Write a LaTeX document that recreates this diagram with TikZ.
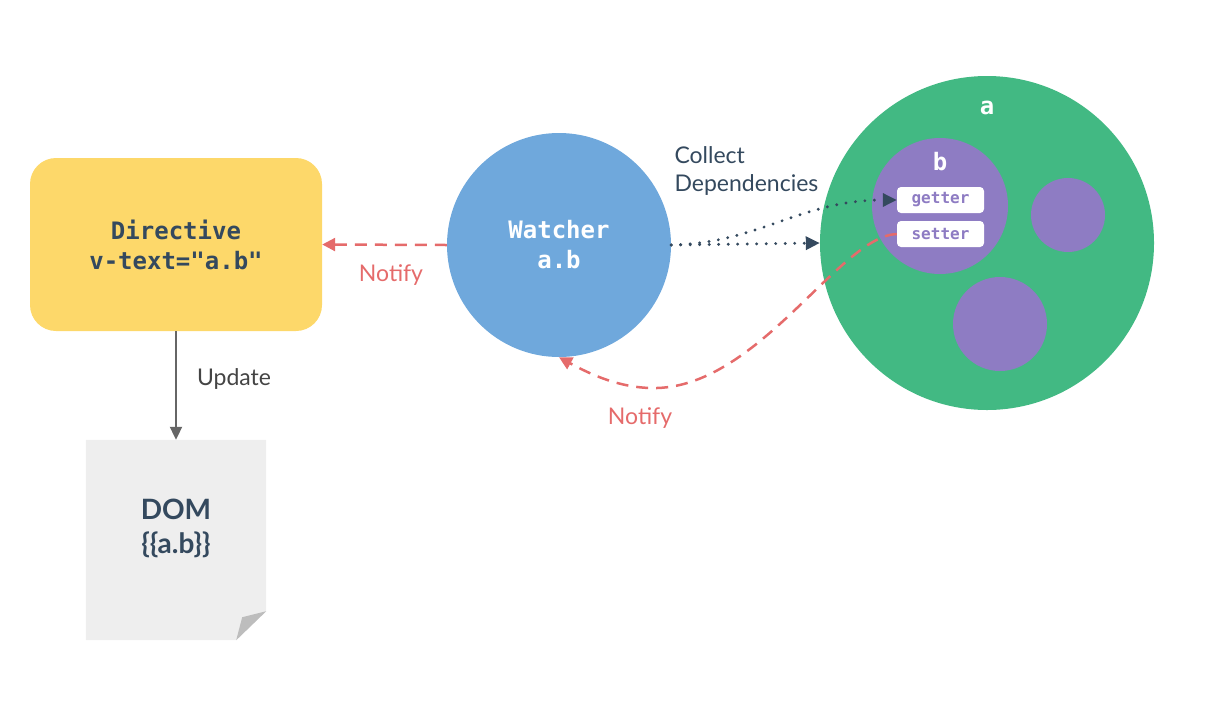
\documentclass[tikz,border=0pt]{standalone}
\usepackage{fontspec}
\setmainfont{Lato}
\newfontfamily\monof{DejaVu Sans Mono}
\usetikzlibrary{arrows.meta}
\definecolor{cyel}{HTML}{FDD86A}
\definecolor{cgreen}{HTML}{42B983}
\definecolor{cblue}{HTML}{6FA8DC}
\definecolor{cpurple}{HTML}{8E7CC3}
\definecolor{cred}{HTML}{E56B6B}
\definecolor{cdark}{HTML}{34495E}
\definecolor{cpage}{HTML}{EEEEEE}
\definecolor{cfold}{HTML}{BDBDBD}
\definecolor{cgray}{HTML}{666666}
\definecolor{ctext}{HTML}{444444}
\tikzset{
  x=1pt, y=-1pt,
  monolbl/.style={font=\monof\bfseries\fontsize{24}{30}\selectfont, align=center},
  sanslbl/.style={font=\fontsize{23}{28}\selectfont},
  circ/.style={circle, inner sep=0pt, minimum size=#1},
  redline/.style={draw=cred, line width=2.5pt, dash pattern=on 12pt off 8pt, -{Triangle[length=13pt,width=13pt]}},
  dotline/.style={draw=cdark, line width=3.2pt, line cap=round, dash pattern=on 0pt off 9.5pt, -{Triangle[length=14pt,width=13pt]}},
  pill/.style={fill=white, rounded corners=4pt, minimum width=87pt, minimum height=26pt, inner sep=0pt, text=cpurple, font=\monof\bfseries\fontsize{16}{18}\selectfont}
}
\begin{document}
\begin{tikzpicture}
\useasboundingbox (0,0) rectangle (1222,710);
% directive box
\node[fill=cyel, rounded corners=26pt, minimum width=292pt, minimum height=173pt, monolbl, text=cdark, inner sep=0pt] (dir) at (176,244.5) {Directive\\v-text="a.b"};
% DOM page
\node[minimum width=180pt, minimum height=200pt, inner sep=0pt] (dom) at (176,540) {};
\fill[cpage] (dom.north west) -- (dom.north east) -- ([yshift=29pt]dom.south east) -- ([xshift=-30pt]dom.south east) -- (dom.south west) -- cycle;
\fill[cfold] ([yshift=29pt]dom.south east) -- ([xshift=-24pt,yshift=23pt]dom.south east) -- ([xshift=-30pt]dom.south east) -- cycle;
\node[font=\bfseries\fontsize{28}{34}\selectfont, text=cdark, align=center] (domtxt) at (176,528) {DOM\\\{\{a.b\}\}};
% update arrow
\draw[draw=cgray, line width=2pt, -{Triangle[length=13pt,width=12pt]}] (dir.south) -- (dom.north);
\node[sanslbl, text=ctext] (upd) at (234,379) {Update};
% watcher
\node[circ=224pt, fill=cblue, monolbl, text=white] (w) at (559,245) {Watcher\\a.b};
% notify left
\draw[redline] (w.west) -- (dir.east);
\node[sanslbl, text=cred] (n1) at (391,275) {Notify};
% green a
\node[circ=334pt, fill=cgreen] (a) at (987,243) {};
\node[monolbl, text=white] (alab) at (987,108) {a};
\node[circ=136pt, fill=cpurple] (b) at (940,206) {};
\node[monolbl, text=white] (blab) at (940,162) {b};
\node[circ=74pt, fill=cpurple] (c1) at (1068,215) {};
\node[circ=94pt, fill=cpurple] (c2) at (1000,324) {};
\node[pill] (getter) at (940.5,200) {getter};
\node[pill] (setter) at (940.5,234) {setter};
% collect deps
\node[sanslbl, text=cdark, align=left, anchor=north west] (cd) at (671,143) {Collect\\Dependencies};
\draw[dotline] (w.east) -- (a.west);
\draw[dotline] (w.east) .. controls (760,243) and (800,200) .. (getter.west);
% notify back
\coordinate (lowpt) at (657,388);
\draw[redline] (setter.west) .. controls (840,236) and (760,385) .. (lowpt) .. controls (620,389) and (588,373) .. (w.south);
\node[sanslbl, text=cred] (n2) at (640,418) {Notify};
\end{tikzpicture}
\end{document}
